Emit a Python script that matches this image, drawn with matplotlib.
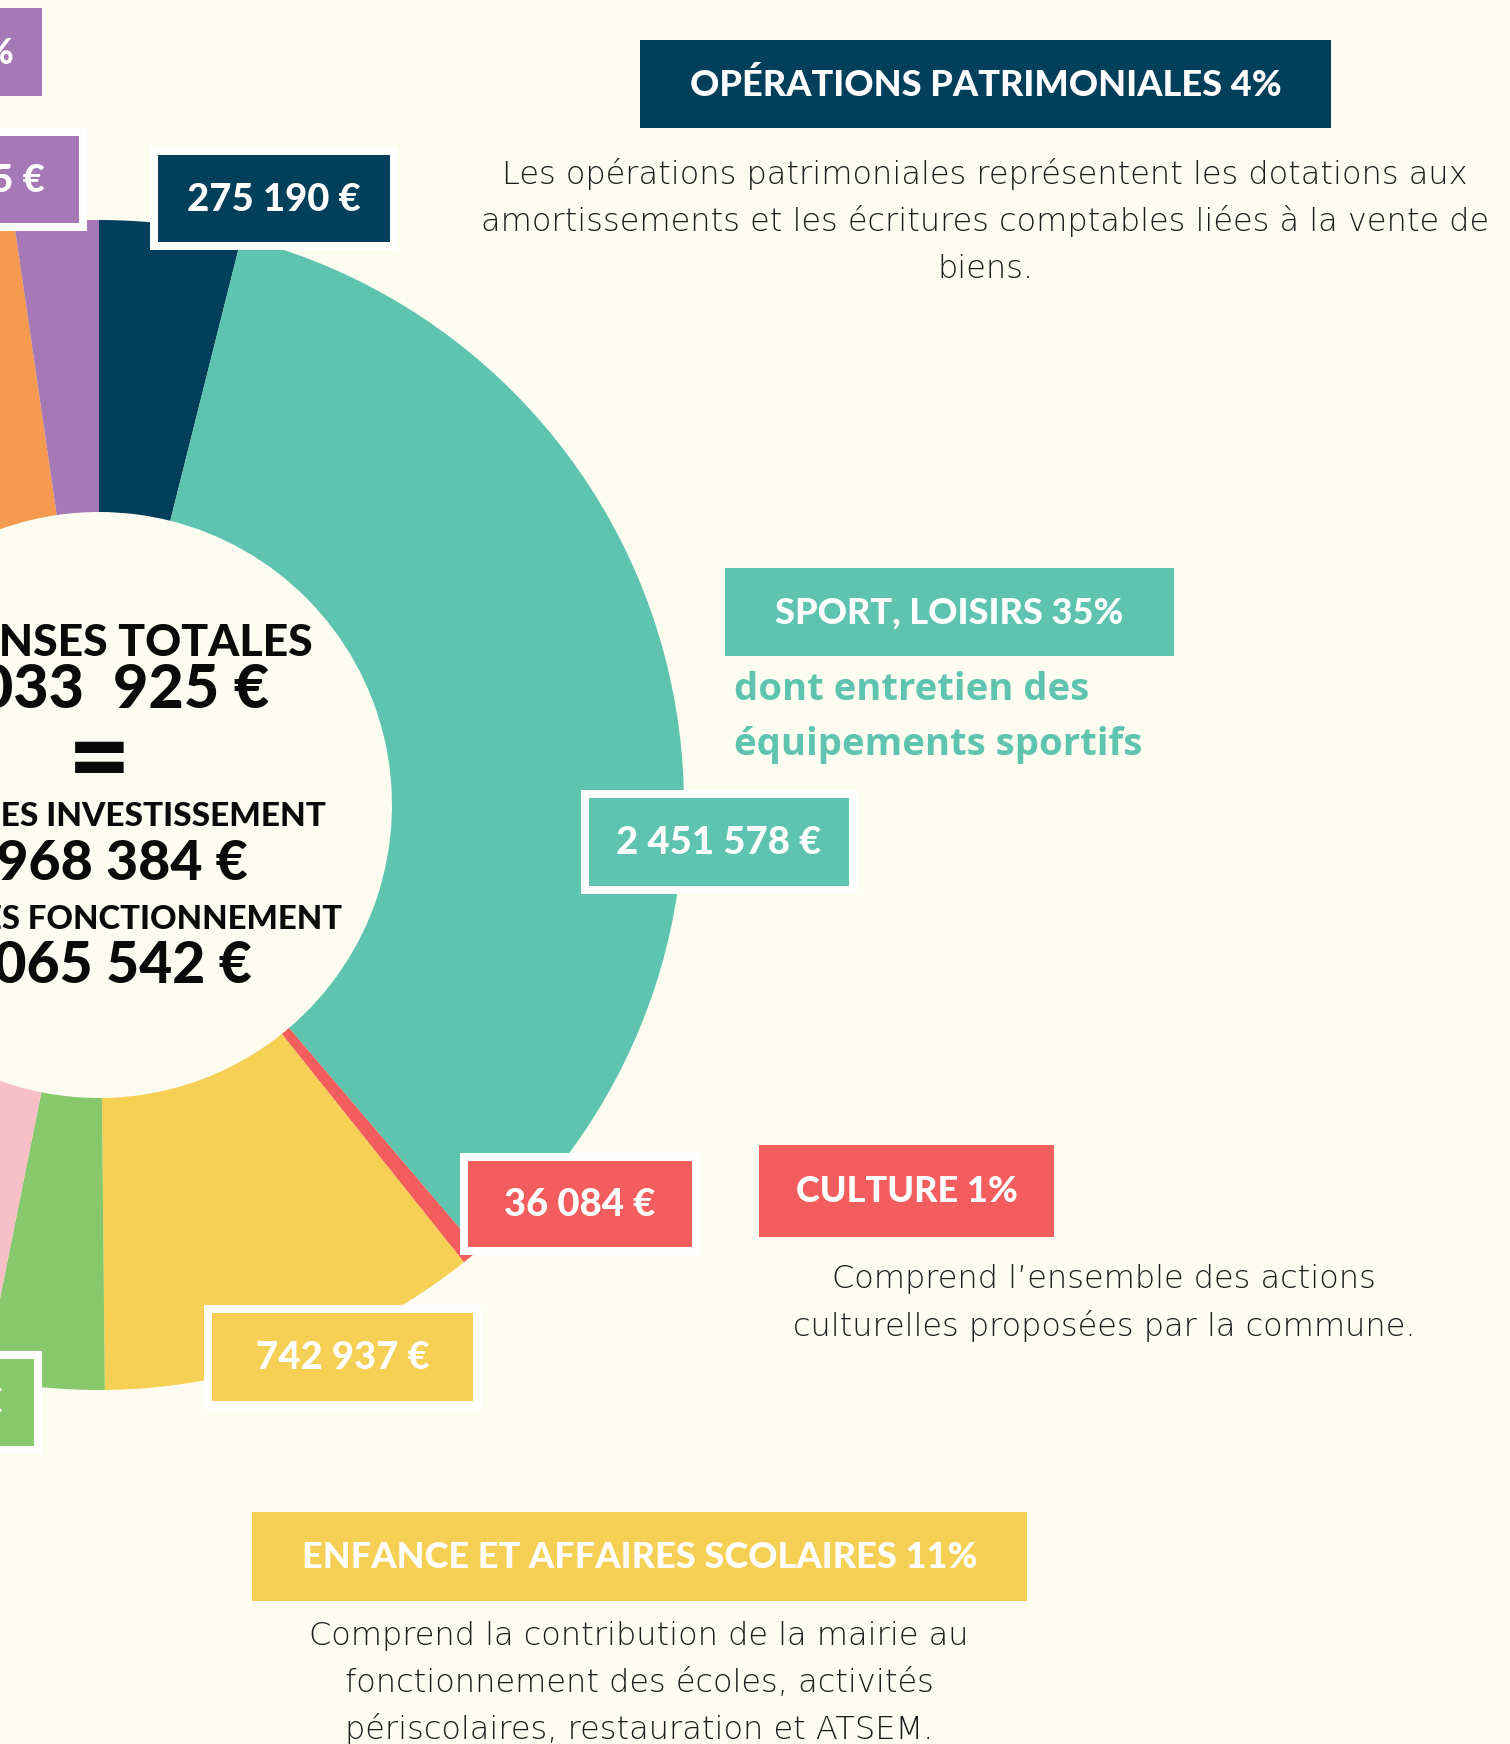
import matplotlib
matplotlib.use('Agg')
import matplotlib.pyplot as plt
from matplotlib.patches import Rectangle

# Canvas in pixels (dpi 100)
W, H = 1510, 1744

# Budget data (clockwise from the top of the ring)
categories = ['Opérations patrimoniales', 'Sport, loisirs', 'Culture',
              'Enfance et affaires scolaires', 'Catégorie verte', 'Catégorie rose',
              'Autres (hors cadre)', 'Catégorie orange', 'Catégorie violette']
montants = [275190, 2451578, 36084, 742937, 232780, 350000, 2363211, 420000, 162145]
couleurs = ['#023f5a', '#5ec4b0', '#f45d5d', '#f6cf55', '#88c86c',
            '#f7c0c6', '#cccccc', '#f59a4f', '#a678b5']
titres = ['OPÉRATIONS PATRIMONIALES', 'SPORT, LOISIRS', 'CULTURE', 'ENFANCE ET AFFAIRES SCOLAIRES']
pourcentages = [4, 35, 1, 11]

total_label = '7 033  925 €'
invest = 1968384
fonct = 5065542

BG = '#fcfcf0'
FONT = ['Lato', 'DejaVu Sans']
FONT_TXT = ['DejaVu Sans']
FONT_SUB = ['Open Sans', 'DejaVu Sans']


def euros(v):
    return '{:,}'.format(v).replace(',', ' ') + ' €'


fig = plt.figure(figsize=(W / 100, H / 100), dpi=100, facecolor=BG)
ax = fig.add_axes([0, 0, 1, 1])
ax.set_facecolor(BG)

# Donut (y axis inverted below, so counterclock=True reads clockwise on screen)
cx, cy = 99, 805
r_out, r_in = 585, 293
ax.pie(montants, colors=couleurs, startangle=-90, counterclock=True,
       radius=r_out, center=(cx, cy),
       wedgeprops=dict(width=r_out - r_in, linewidth=0))

ax.set_xlim(0, W)
ax.set_ylim(H, 0)
ax.set_aspect('equal')
ax.axis('off')


def rect(x0, y0, x1, y1, color, z=5):
    ax.add_patch(Rectangle((x0, y0), x1 - x0, y1 - y0, facecolor=color,
                           edgecolor='none', zorder=z))


def value_box(x0, y0, x1, y1, color, text, tx=None, ha='center', border=8, fs=27.5):
    rect(x0 - border, y0 - border, x1 + border, y1 + border, 'white', z=5)
    rect(x0, y0, x1, y1, color, z=6)
    if tx is None:
        tx = (x0 + x1) / 2
    ax.text(tx, (y0 + y1) / 2 + 1, text, ha=ha, va='center', color='white',
            fontsize=fs, fontweight='black', family=FONT, zorder=7)


def title_box(x0, y0, x1, y1, color, text, tx=None, ha='center', fs=26):
    rect(x0, y0, x1, y1, color, z=5)
    if tx is None:
        tx = (x0 + x1) / 2
    ax.text(tx, (y0 + y1) / 2 + 1, text, ha=ha, va='center', color='white',
            fontsize=fs, fontweight='black', family=FONT, zorder=7)


def description(x, ys, lines, fs=23):
    for y, line in zip(ys, lines):
        ax.text(x, y, line, ha='center', va='center', color='#1c1c1c',
                fontsize=fs, fontweight='light', family=FONT_TXT, zorder=7)


# Value labels
value_box(158, 155, 390, 242, couleurs[0], euros(montants[0]))
value_box(589, 798, 849, 886, couleurs[1], euros(montants[1]))
value_box(468, 1161, 692, 1247, couleurs[2], euros(montants[2]))
value_box(212, 1313, 473, 1401, couleurs[3], euros(montants[3]))
value_box(-20, 136, 79, 223, couleurs[8], euros(montants[8]), tx=45, ha='right')
value_box(-20, 1359, 34, 1446, couleurs[4], euros(montants[4]), tx=3, ha='right')

# Category titles
title_box(640, 40, 1331, 128, couleurs[0], '%s %d%%' % (titres[0], pourcentages[0]))
title_box(725, 568, 1174, 656, couleurs[1], '%s %d%%' % (titres[1], pourcentages[1]))
title_box(759, 1145, 1054, 1237, couleurs[2], '%s %d%%' % (titres[2], pourcentages[2]))
title_box(252, 1512, 1027, 1601, couleurs[3], '%s %d%%' % (titres[3], pourcentages[3]))
title_box(-20, 8, 42, 96, couleurs[8],
          '%d%%' % round(100 * montants[8] / sum(montants)), tx=15, ha='right')

# Descriptions
description(985, [174, 221, 269],
            ['Les opérations patrimoniales représentent les dotations aux',
             'amortissements et les écritures comptables liées à la vente de',
             'biens.'])
description(1104, [1279, 1326],
            ['Comprend l\u2019ensemble des actions',
             'culturelles proposées par la commune.'])
description(639, [1636, 1683, 1729],
            ['Comprend la contribution de la mairie au',
             'fonctionnement des écoles, activités',
             'périscolaires, restauration et ATSEM.'])

for y, line in zip([690, 745], ['dont entretien des', 'équipements sportifs']):
    ax.text(734, y, line, ha='left', va='center', color=couleurs[1],
            fontsize=27.5, fontweight='bold', family=FONT_SUB, zorder=7)

# Centre of the ring
centre = [
    (642, 'DÉPENSES TOTALES', 32),
    (690, total_label, 44),
    (762, '=', 78),
    (816, 'DÉPENSES INVESTISSEMENT', 24),
    (864, euros(invest), 40),
    (919, 'DÉPENSES FONCTIONNEMENT', 23.7),
    (966, euros(fonct), 41),
]
for y, txt, fs in centre:
    ax.text(cx, y, txt, ha='center', va='center', color='#0a0a0a',
            fontsize=fs, fontweight='black', family=FONT, zorder=7)

fig.savefig('out.png', dpi=100, facecolor=BG)
